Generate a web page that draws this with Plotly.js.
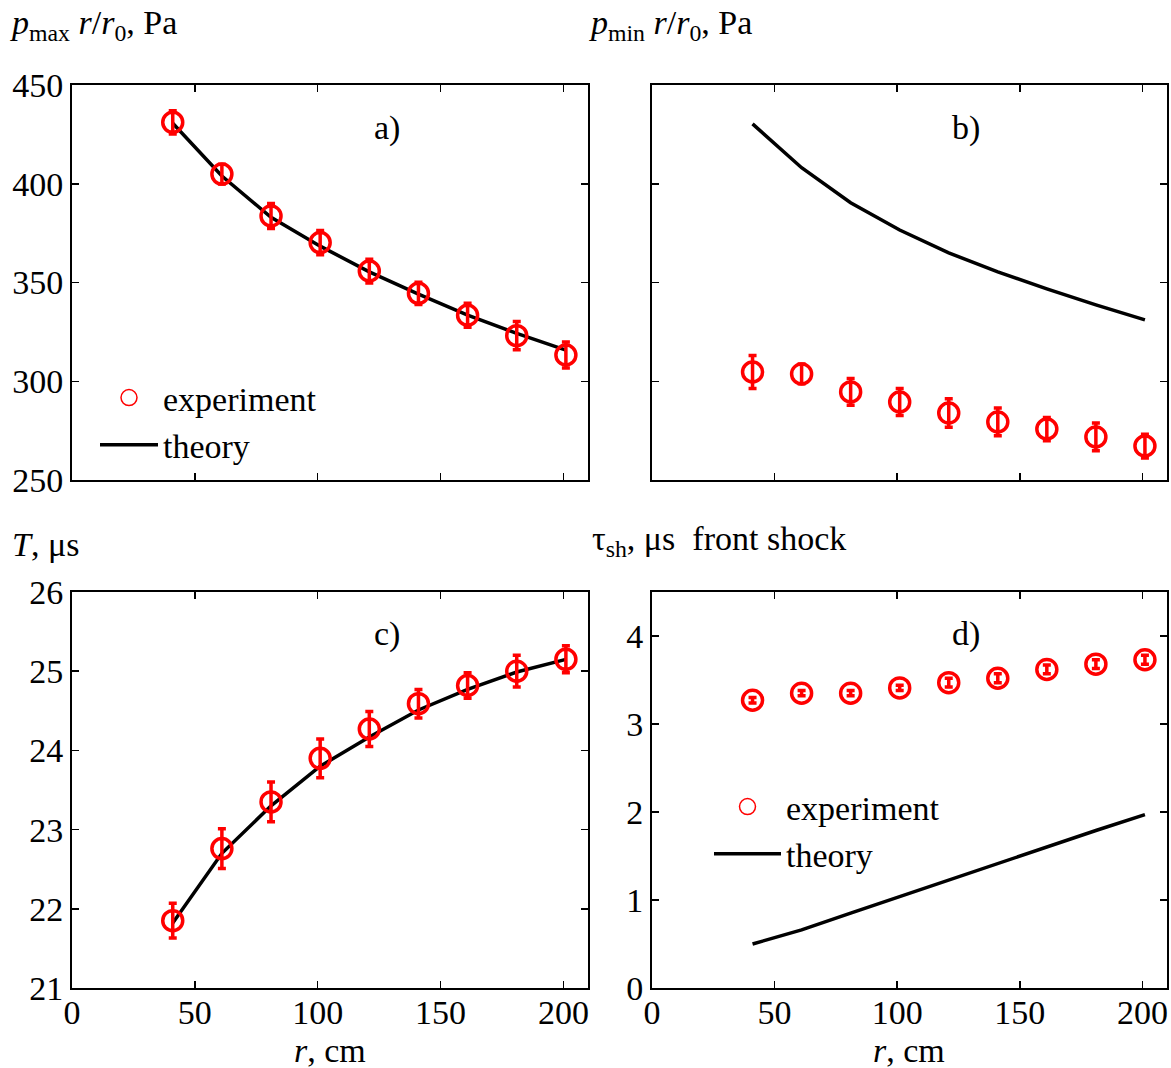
<!DOCTYPE html>
<html>
<head>
<meta charset="utf-8">
<script src="https://cdn.plot.ly/plotly-3.0.1.min.js"></script>
<style>
  html, body { margin: 0; padding: 0; background: #fff; }
  #chart { width: 1171px; height: 1068px; }
</style>
</head>
<body>
<div id="chart"></div>
<script>
// Distance from the source, cm
const r = [41, 61, 81, 101, 121, 141, 161, 181, 201];

// a) peak overpressure scaled by r/r0, Pa
const pmaxExp = [431.1, 404.9, 383.7, 370.2, 355.8, 344.5, 333.4, 323.1, 313.3];
const pmaxErr = [5.9, 5.0, 6.3, 6.1, 6.0, 5.6, 6.1, 7.1, 6.6];
const pmaxTheory = [430.6, 403.9, 383.0, 368.4, 355.4, 344.1, 333.5, 324.2, 315.8];

// b) minimum (negative phase) pressure scaled by r/r0, Pa
const pminExp = [304.7, 303.7, 294.6, 289.5, 283.9, 279.4, 275.8, 271.8, 267.2];
const pminErr = [8.4, 5.0, 6.8, 6.8, 7.2, 7.0, 5.9, 7.0, 6.0];
const pminTheory = [430.3, 408.1, 390.4, 376.6, 365.0, 355.4, 346.8, 338.7, 331.1];

// c) period T, microseconds
const periodExp = [21.85, 22.76, 23.35, 23.90, 24.27, 24.59, 24.82, 25.00, 25.15];
const periodErr = [0.22, 0.25, 0.25, 0.245, 0.22, 0.18, 0.16, 0.20, 0.17];
const periodTheory = [21.82, 22.70, 23.30, 23.80, 24.17, 24.51, 24.77, 24.99, 25.15];

// d) front shock rise time, microseconds
const tauExp = [3.27, 3.35, 3.35, 3.41, 3.47, 3.52, 3.62, 3.68, 3.73];
const tauErr = [0.03, 0.03, 0.03, 0.03, 0.05, 0.05, 0.05, 0.05, 0.05];
const tauTheory = [0.50, 0.66, 0.85, 1.04, 1.22, 1.42, 1.60, 1.79, 1.97];

const xTicks = [0, 50, 100, 150, 200];

const W = 1171, H = 1068;
const RED = '#ff0000';
const FONT = '"Liberation Serif", "Times New Roman", serif';
const FS = 34;

function px(v) { return v / W; }
function py(v) { return 1 - v / H; }

function expTrace(y, err, xa, ya) {
  return {
    x: r, y: y, xaxis: xa, yaxis: ya, type: 'scatter', mode: 'markers',
    showlegend: false,
    marker: { symbol: 'circle-open', size: 20, color: RED, line: { color: RED, width: 3.5 } },
    error_y: { type: 'data', array: err, visible: true, color: RED, thickness: 3.5, width: 4 }
  };
}
function theoryTrace(y, xa, ya) {
  return {
    x: r, y: y, xaxis: xa, yaxis: ya, type: 'scatter', mode: 'lines',
    showlegend: false,
    line: { color: '#000', width: 3.5 }
  };
}
function legendTraces(legendId, xa, ya) {
  return [
    { x: [null], y: [null], xaxis: xa, yaxis: ya, type: 'scatter', mode: 'markers',
      name: 'experiment', legend: legendId, showlegend: true,
      marker: { symbol: 'circle-open', size: 16, color: RED, line: { color: RED, width: 1.5 } } },
    { x: [null], y: [null], xaxis: xa, yaxis: ya, type: 'scatter', mode: 'lines',
      name: 'theory', legend: legendId, showlegend: true,
      line: { color: '#000', width: 3.5 } }
  ];
}

const data = [
  theoryTrace(pmaxTheory, 'x', 'y'),
  expTrace(pmaxExp, pmaxErr, 'x', 'y'),
  theoryTrace(pminTheory, 'x2', 'y2'),
  expTrace(pminExp, pminErr, 'x2', 'y2'),
  theoryTrace(periodTheory, 'x3', 'y3'),
  expTrace(periodExp, periodErr, 'x3', 'y3'),
  theoryTrace(tauTheory, 'x4', 'y4'),
  expTrace(tauExp, tauErr, 'x4', 'y4')
].concat(legendTraces('legend', 'x', 'y'), legendTraces('legend2', 'x4', 'y4'));

function xAxis(domain, anchor, labels) {
  return {
    domain: domain, anchor: anchor, range: [0, 210],
    tickvals: xTicks, ticktext: xTicks.map(String), showticklabels: labels,
    ticks: 'inside', ticklen: 7, tickwidth: 1.5, tickcolor: '#000',
    ticklabelstandoff: -7,
    showline: true, linecolor: '#000', linewidth: 2, mirror: 'ticks',
    showgrid: false, zeroline: false,
    tickfont: { family: FONT, size: FS, color: '#000' }
  };
}
function yAxis(domain, anchor, range, dtick, labels) {
  return {
    domain: domain, anchor: anchor, range: range, dtick: dtick, tick0: range[0],
    showticklabels: labels,
    ticks: 'inside', ticklen: 7, tickwidth: 1.5, tickcolor: '#000',
    showline: true, linecolor: '#000', linewidth: 2, mirror: 'ticks',
    showgrid: false, zeroline: false,
    tickfont: { family: FONT, size: FS, color: '#000' }
  };
}

const leftX = [px(72), px(588)];
const rightX = [px(652), px(1167)];
const topY = [py(480), py(85)];
const botY = [py(988), py(592)];

function note(text, x, y, xref, yref, xanchor, yanchor) {
  return {
    text: text, x: x, y: y, xref: xref, yref: yref,
    xanchor: xanchor || 'center', yanchor: yanchor || 'middle', showarrow: false,
    font: { family: FONT, size: FS, color: '#000' }
  };
}

const legendStyle = {
  font: { family: FONT, size: FS, color: '#000' },
  bgcolor: 'rgba(0,0,0,0)', borderwidth: 0,
  tracegroupgap: 0,
  xanchor: 'left', yanchor: 'top'
};

const layout = {
  width: W, height: H,
  margin: { l: 0, r: 0, t: 0, b: 0 },
  paper_bgcolor: '#fff', plot_bgcolor: '#fff',
  font: { family: FONT, size: FS, color: '#000' },
  xaxis: xAxis(leftX, 'y', false),
  yaxis: yAxis(topY, 'x', [250, 450], 50, true),
  xaxis2: xAxis(rightX, 'y2', false),
  yaxis2: yAxis(topY, 'x2', [250, 450], 50, false),
  xaxis3: xAxis(leftX, 'y3', true),
  yaxis3: yAxis(botY, 'x3', [21, 26], 1, true),
  xaxis4: xAxis(rightX, 'y4', true),
  yaxis4: yAxis(botY, 'x4', [0, 4.5], 1, true),
  legend: Object.assign({}, legendStyle, { x: px(95), y: py(369), itemwidth: 58 }),
  legend2: Object.assign({}, legendStyle, { x: px(709), y: py(778), itemwidth: 67 }),
  annotations: [
    note('<i>p</i><sub>max</sub> <i>r</i>/<i>r</i><sub>0</sub>, Pa', px(8), py(25), 'paper', 'paper', 'left'),
    note('<i>p</i><sub>min</sub> <i>r</i>/<i>r</i><sub>0</sub>, Pa', px(587), py(25), 'paper', 'paper', 'left'),
    note('<i>T</i>, μs', px(10), py(544), 'paper', 'paper', 'left'),
    note('τ<sub>sh</sub>, μs\u00a0 front shock', px(590), py(541), 'paper', 'paper', 'left'),
    note('<i>r</i>, cm', px(330), py(1071), 'paper', 'paper', 'center', 'bottom'),
    note('<i>r</i>, cm', px(909), py(1071), 'paper', 'paper', 'center', 'bottom'),
    note('a)', 128, 428, 'x', 'y'),
    note('b)', 128, 428, 'x2', 'y2'),
    note('c)', 128, 25.47, 'x3', 'y3'),
    note('d)', 128, 4.02, 'x4', 'y4')
  ]
};

Plotly.newPlot('chart', data, layout, { displayModeBar: false, staticPlot: true });
</script>
</body>
</html>
